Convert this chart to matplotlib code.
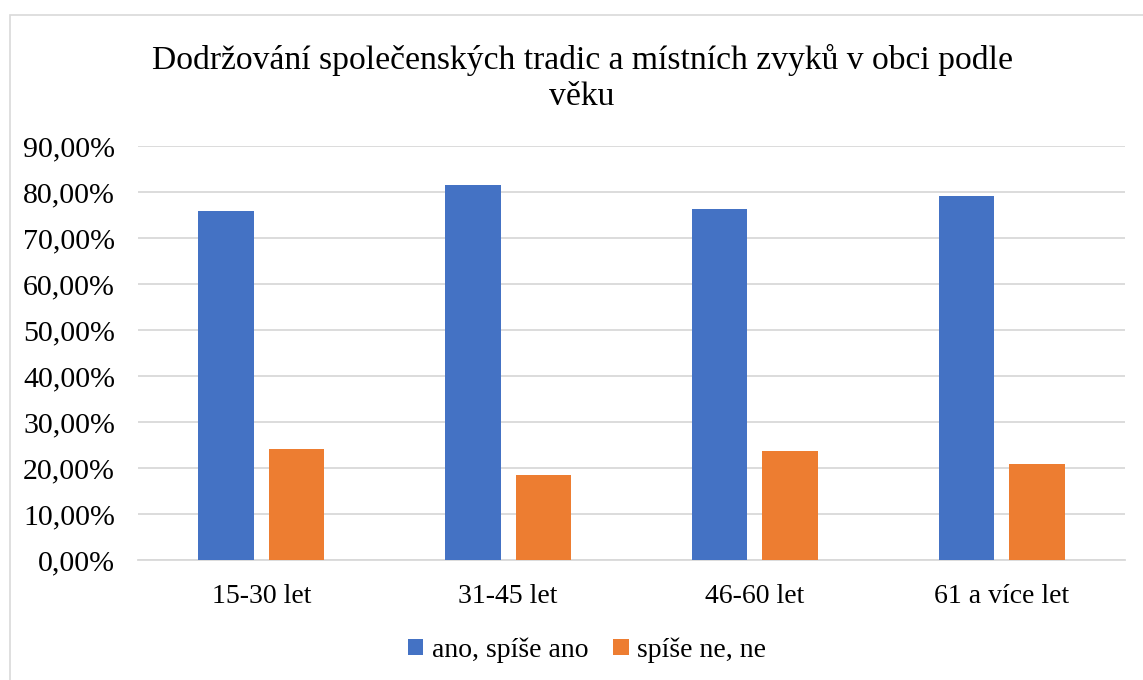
import numpy as np
import matplotlib.pyplot as plt
from matplotlib.patches import Rectangle
from matplotlib.ticker import FuncFormatter

categories = ['15-30 let', '31-45 let', '46-60 let', '61 a více let']
ano = [75.9, 81.6, 76.3, 79.1]
ne = [24.1, 18.4, 23.7, 20.9]
series_names = ['ano, spíše ano', 'spíše ne, ne']
title = 'Dodržování společenských tradic a místních zvyků v obci podle\nvěku'

plt.rcParams['font.family'] = ['Liberation Serif', 'DejaVu Serif']

W, H = 1143, 680
fig = plt.figure(figsize=(W / 100, H / 100), dpi=100)

# chart frame (cut off at the right and bottom)
fig.patches.append(Rectangle((10 / W, -0.1), 1.2, 1 - 15 / H + 0.1,
                             transform=fig.transFigure, fill=False,
                             edgecolor='#d9d9d9', linewidth=1.2))

ax = fig.add_axes([138 / W, 1 - 560 / H, (1125 - 138) / W, (560 - 146) / H])

x = np.arange(len(categories))
w = 0.225
off = 0.1425
ax.bar(x - off, ano, w, color='#4472c4', label=series_names[0], zorder=3)
ax.bar(x + off, ne, w, color='#ed7d31', label=series_names[1], zorder=3)

ax.set_xlim(-0.5, len(categories) - 0.5)
ax.set_ylim(0, 90)
ax.set_yticks(np.arange(0, 91, 10))
ax.yaxis.set_major_formatter(FuncFormatter(lambda v, p: f'{v:.2f}%'.replace('.', ',')))
ax.set_xticks(x)
ax.set_xticklabels(categories)
ax.tick_params(axis='both', length=0, colors='black')
ax.tick_params(axis='x', pad=17, labelsize=20)
ax.tick_params(axis='y', pad=16.5, labelsize=21.5)
ax.grid(axis='y', color='#d9d9d9', linewidth=1.3, zorder=0)
for s in ['top', 'right', 'left']:
    ax.spines[s].set_visible(False)
ax.spines['bottom'].set_color('#d9d9d9')
ax.spines['bottom'].set_linewidth(1.3)

fig.text(582 / W, 1 - 78 / H, title, ha='center', va='center', fontsize=24.2,
         linespacing=1.2)

fig.legend(loc='center', bbox_to_anchor=(587 / W, 1 - 650 / H), ncol=2,
           frameon=False, fontsize=20, handlelength=0.55, handleheight=0.55,
           handletextpad=0.3, columnspacing=0.9)

fig.savefig('out.png', dpi=100)
